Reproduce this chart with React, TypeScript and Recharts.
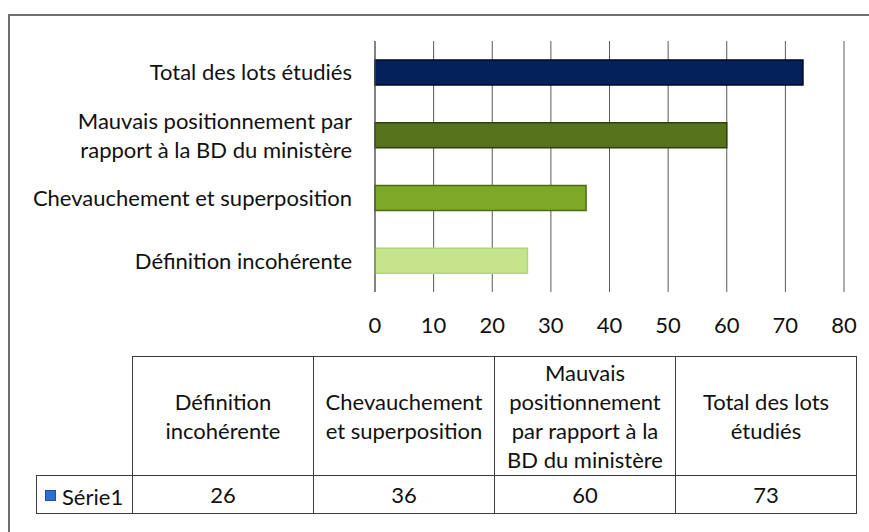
import React from 'react';
import { BarChart, Bar, XAxis, YAxis, CartesianGrid, Cell } from 'recharts';

// categories in table order (first one sits at the bottom of the bar chart)
const categories = [
  'Définition incohérente',
  'Chevauchement et superposition',
  'Mauvais positionnement par rapport à la BD du ministère',
  'Total des lots étudiés',
];
const values = [26, 36, 60, 73];
const seriesName = 'Série1';
const xTicks = [0, 10, 20, 30, 40, 50, 60, 70, 80];

// how each category label breaks on the axis and in the data table
const axisLabelLines = [
  ['Définition incohérente'],
  ['Chevauchement et superposition'],
  ['Mauvais positionnement par', 'rapport à la BD du ministère'],
  ['Total des lots étudiés'],
];
const tableLabelLines = [
  ['Définition', 'incohérente'],
  ['Chevauchement', 'et superposition'],
  ['Mauvais', 'positionnement', 'par rapport à la', 'BD du ministère'],
  ['Total des lots', 'étudiés'],
];

const barFills = ['#c6e48c', '#7ea927', '#56731b', '#04215c'];
const barStrokes = ['#b2d47a', '#4d6b14', '#2f420c', '#000814'];

const FONT = 'Lato, "Open Sans", sans-serif';
const FS = 22;

const data = categories.map((name, i) => ({ name, value: values[i] }));

const YTick = (props: any) => {
  const { x, y, payload } = props;
  const lines = axisLabelLines[categories.indexOf(payload.value)] || [payload.value];
  const lh = 29;
  return (
    <text x={x} y={y} textAnchor="end" fill="#111" fontSize={FS} fontFamily={FONT}>
      {lines.map((l, i) => (
        <tspan key={i} x={x} dy={i === 0 ? -((lines.length - 1) / 2) * lh + 8 : lh}>
          {l}
        </tspan>
      ))}
    </text>
  );
};

const cellBorder = '1px solid #3c3c3c';

const App: React.FC = () => {
  return (
    <div
      style={{
        position: 'absolute',
        left: 0,
        top: 0,
        width: 869,
        height: 532,
        overflow: 'hidden',
        background: '#fff',
        fontFamily: FONT,
      }}
    >
      {/* chart frame, its right and bottom sides run off the picture */}
      <div
        style={{
          position: 'absolute',
          left: 8,
          top: 14,
          width: 900,
          height: 600,
          borderLeft: '2px solid #6e6e6e',
          borderTop: '2px solid #6e6e6e',
        }}
      />

      <div style={{ position: 'absolute', left: 0, top: 0 }}>
        <BarChart
          width={869}
          height={340}
          data={data}
          layout="vertical"
          margin={{ top: 41, right: 25, bottom: 8, left: 0 }}
          barSize={25}
        >
          <CartesianGrid horizontal={false} stroke="#5a5a5a" />
          <XAxis
            type="number"
            domain={[0, 80]}
            ticks={xTicks}
            axisLine={false}
            tickLine={false}
            tickSize={0}
            tickMargin={25}
            height={40}
            interval={0}
            tick={{ fill: '#111', fontSize: FS, fontFamily: FONT }}
          />
          <YAxis
            type="category"
            dataKey="name"
            reversed
            width={375}
            axisLine={{ stroke: '#5a5a5a' }}
            tickLine={false}
            tickSize={0}
            tickMargin={23}
            interval={0}
            tick={<YTick />}
          />
          <Bar dataKey="value" name={seriesName} isAnimationActive={false} strokeWidth={1.5}>
            {data.map((_d, i) => (
              <Cell key={`cell-${i}`} fill={barFills[i]} stroke={barStrokes[i]} />
            ))}
          </Bar>
        </BarChart>
      </div>

      {/* data table under the chart */}
      <table
        style={{
          position: 'absolute',
          left: 36,
          top: 356,
          borderCollapse: 'collapse',
          fontSize: FS,
          lineHeight: '29px',
          color: '#111',
          tableLayout: 'fixed',
        }}
      >
        <colgroup>
          <col style={{ width: 96 }} />
          {categories.map((c) => (
            <col key={c} style={{ width: 181 }} />
          ))}
        </colgroup>
        <tbody>
          <tr style={{ height: 119 }}>
            <td style={{ border: 'none' }} />
            {tableLabelLines.map((lines, i) => (
              <td key={i} style={{ border: cellBorder, textAlign: 'center', verticalAlign: 'middle', padding: 0 }}>
                {lines.map((l, j) => (
                  <div key={j} style={{ whiteSpace: 'nowrap' }}>{l}</div>
                ))}
              </td>
            ))}
          </tr>
          <tr style={{ height: 38 }}>
            <td style={{ border: cellBorder, padding: '0 0 0 8px', whiteSpace: 'nowrap' }}>
              <span
                style={{
                  display: 'inline-block',
                  width: 9,
                  height: 9,
                  background: '#2f6fd0',
                  border: '1px solid #1d4f9e',
                  marginRight: 6,
                  verticalAlign: 'middle',
                }}
              />
              <span style={{ verticalAlign: 'middle' }}>{seriesName}</span>
            </td>
            {values.map((v, i) => (
              <td key={i} style={{ border: cellBorder, textAlign: 'center', padding: 0 }}>
                {v}
              </td>
            ))}
          </tr>
        </tbody>
      </table>
    </div>
  );
};

export default App;
